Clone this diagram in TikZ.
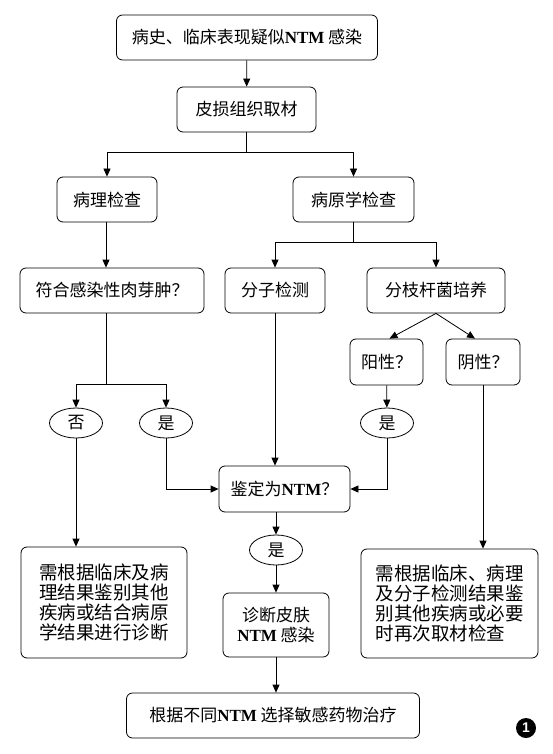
\documentclass[tikz,border=0pt]{standalone}
\usepackage{fontspec}
\setmainfont{Liberation Serif}
\setsansfont{Liberation Sans}
\newfontfamily\cjk{Noto Sans CJK SC}
\usetikzlibrary{arrows.meta,shapes.geometric}
\newcommand\ntm{{\rmfamily\bfseries NTM}}

\begin{document}
\begin{tikzpicture}[x=1pt, y=-1pt,
    box/.style={draw, rounded corners=6pt, line width=0.8pt, minimum height=45pt, inner sep=2pt, font=\cjk\fontsize{17}{20}\selectfont},
    notebox/.style={box, align=left, font=\cjk\fontsize{18.5}{20}\selectfont},
    answer/.style={draw, ellipse, line width=0.8pt, minimum width=53pt, minimum height=30pt, inner sep=0pt, font=\cjk\fontsize{17}{20}\selectfont},
    link/.style={line width=0.8pt},
    arr/.style={link, -{Triangle[length=8pt, width=7pt]}}]
    \useasboundingbox (0,0) rectangle (552,754);

    % Suspicion and biopsy
    \node[box, minimum width=261pt] (history) at (247,37.5) {病史、临床表现疑似\ntm\ 感染};
    \node[box, minimum width=139pt] (biopsy) at (246.5,109.5) {皮损组织取材};

    % Two kinds of examination
    \node[box, minimum width=100pt] (patho) at (107,199.5) {病理检查};
    \node[box, minimum width=121pt] (etio) at (353.5,199.5) {病原学检查};

    % Third row
    \node[box, minimum width=184pt] (granu) at (112,290.5) {符合感染性肉芽肿？};
    \node[box, minimum width=100pt] (molec) at (275,290.5) {分子检测};
    \node[box, minimum width=138pt] (culture) at (436,290.5) {分枝杆菌培养};
    \node[box, minimum width=73pt, minimum height=46pt] (pos) at (386.5,362) {阳性？};
    \node[box, minimum width=74pt, minimum height=46pt] (neg) at (483,362) {阴性？};

    % Answers
    \node[answer] (no1) at (76,423) {否};
    \node[answer] (yes1) at (166,423) {是};
    \node[answer] (yes2) at (387,423) {是};

    % Identification
    \node[box, minimum width=131pt, minimum height=46pt] (ident) at (284.5,489) {鉴定为\ntm？};
    \node[answer] (yes3) at (276,550) {是};
    \node[box, minimum width=106pt, minimum height=64pt, align=center] (diag) at (276,625) {诊断皮肤\\\ntm\ 感染};

    % Side conclusions
    \node[notebox, minimum width=166pt, minimum height=111pt] (leftnote) at (104,602.5) {需根据临床及病\\理结果鉴别其他\\疾病或结合病原\\学结果进行诊断};
    \node[notebox, minimum width=177pt, minimum height=109pt] (rightnote) at (449.5,603.5) {需根据临床、病理\\及分子检测结果鉴\\别其他疾病或必要\\时再次取材检查};

    % Treatment
    \node[box, minimum width=293pt] (treat) at (273,715.5) {根据不同\ntm\ 选择敏感药物治疗};
    \node[circle, fill=black, text=white, inner sep=0pt, minimum size=20pt, font=\sffamily\bfseries\fontsize{14}{14}\selectfont] (fig) at (526,728) {1};

    % Branch points
    \coordinate (split1) at (246.5,152);
    \coordinate (split2) at (353.5,242);
    \coordinate (split3) at (106,384);

    % Arrows
    \draw[arr] (history) -- (biopsy);
    \draw[link] (biopsy) -- (split1);
    \draw[arr] (split1) -| (patho);
    \draw[arr] (split1) -| (etio);
    \draw[arr] (split3 |- patho.south) -- (split3 |- granu.north);
    \draw[link] (etio) -- (split2);
    \draw[arr] (split2) -| (molec);
    \draw[arr] (split2) -| (culture);
    \draw[arr] (culture.south) -- ([xshift=3pt]pos.north);
    \draw[arr] (culture.south) -- ([xshift=-8pt]neg.north);
    \draw[link] (split3 |- granu.south) -- (split3);
    \draw[arr] (split3) -| (no1);
    \draw[arr] (split3) -| (yes1);
    \draw[arr] (pos) -- (yes2);
    \draw[arr] (yes1) |- (ident);
    \draw[arr] (yes2) |- (ident);
    \draw[arr] (molec) -- (molec |- ident.north);
    \draw[arr] (yes3 |- ident.south) -- (yes3);
    \draw[arr] (yes3) -- (diag);
    \draw[arr] (diag) -- (diag |- treat.north);
    \draw[arr] (no1) -- (no1 |- leftnote.north);
    \draw[arr] (neg) -- (neg |- rightnote.north);

\end{tikzpicture}
\end{document}
